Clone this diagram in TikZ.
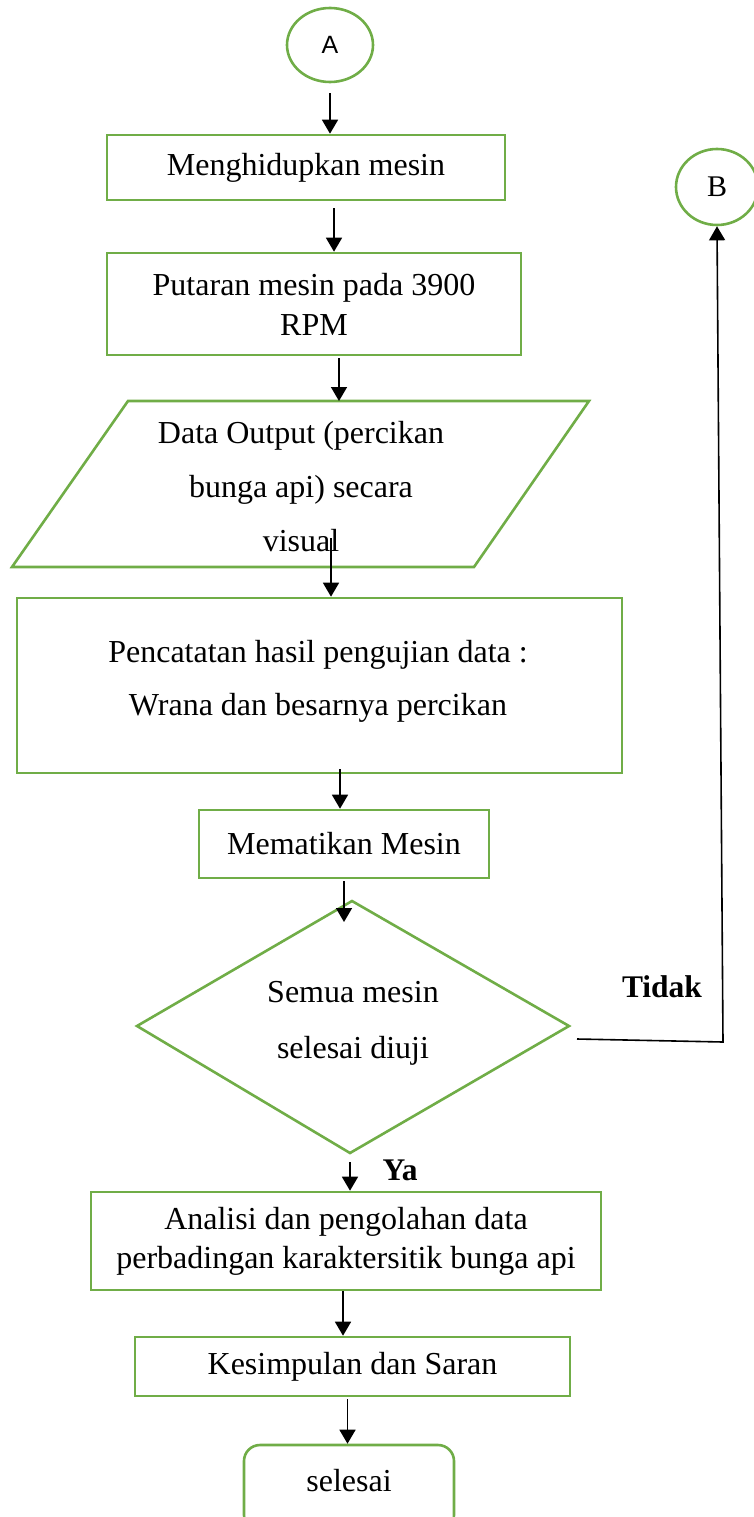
\documentclass[tikz,border=0pt]{standalone}
\usepackage{fontspec}
\setmainfont{Liberation Serif}
\newfontfamily\labelsans{Liberation Sans}
\usetikzlibrary{arrows.meta,shapes.geometric}
\definecolor{boxgreen}{HTML}{70AD47}

\begin{document}
\begin{tikzpicture}[x=1pt,y=-1pt,
  flowline/.style={draw=boxgreen,line width=2.6pt},
  box/.style={flowline,rectangle,inner sep=0pt,align=center,font=\fontsize{32}{40}\selectfont},
  plaintext/.style={inner sep=0pt,align=center},
  connector/.style={draw=black,line width=1.6pt},
  arr/.style={connector,-{Triangle[width=16pt,length=14pt]}},
  decision/.style={font=\bfseries\fontsize{31.5}{31.5}\selectfont,inner sep=0pt}
]
\useasboundingbox (0,0) rectangle (754,1517);

% connector circles
\node[ellipse,flowline,minimum width=86pt,minimum height=74pt,inner sep=0pt,
      font=\labelsans\fontsize{25}{25}\selectfont] (A) at (330,45) {A};
\node[ellipse,flowline,minimum width=82pt,minimum height=76pt,inner sep=0pt,
      font=\fontsize{30}{30}\selectfont] (B) at (717,187) {B};

% process steps
\node[box,minimum width=398pt,minimum height=65pt] (n1) at (306,167.5) {Menghidupkan mesin};
\node[box,minimum width=414pt,minimum height=102pt] (n2) at (314,304) {Putaran mesin pada 3900\\RPM};

% input/output parallelogram
\draw[flowline] (128,401) coordinate (p-tl) -- (589,401) coordinate (p-tr)
  -- (474,567) coordinate (p-br) -- (12,567) coordinate (p-bl) -- cycle;
\node[plaintext,font=\fontsize{32}{54}\selectfont] (ptext) at (301,487)
  {Data Output (percikan\\bunga api) secara\\visual};

\node[box,minimum width=605pt,minimum height=175pt,font=\fontsize{32}{53}\selectfont] (n3) at (319.5,685.5) {};
\node[plaintext,font=\fontsize{32}{53}\selectfont] (n3text) at (318,681)
  {Pencatatan hasil pengujian data :\\Wrana dan besarnya percikan};
\node[box,minimum width=290pt,minimum height=68pt] (n4) at (344,844) {Mematikan Mesin};

% decision
\draw[flowline] (352,901) coordinate (d-top) -- (569,1026) coordinate (d-right)
  -- (350,1153) coordinate (d-bot) -- (137,1026) coordinate (d-left) -- cycle;
\node[plaintext,font=\fontsize{32}{56}\selectfont] (dtext) at (353,1023) {Semua mesin\\selesai diuji};
\node[decision] (tidak) at (662,987) {Tidak};
\node[decision] (ya) at (400,1170) {Ya};

\node[box,minimum width=510pt,minimum height=98pt,font=\fontsize{32}{39}\selectfont] (n5) at (346,1241)
  {Analisi dan pengolahan data\\perbadingan karaktersitik bunga api};
\node[box,minimum width=435pt,minimum height=59pt] (n6) at (352.5,1366.5) {Kesimpulan dan Saran};

% terminator
\node[box,rounded corners=16pt,minimum width=210pt,text height=46pt,text depth=40pt,anchor=base] (end) at (349,1491) {selesai};

% flow arrows
\draw[arr,shorten <=10pt] (A.south) -- (A.south |- n1.north);
\draw[arr,shorten <=7pt] ([xshift=28pt]n1.south) -- ([xshift=28pt]n1.south |- n2.north);
\draw[arr,shorten <=2pt] ([xshift=25pt]n2.south) -- ([xshift=25pt]n2.south |- p-tl);
\draw[arr] ([xshift=30pt,yshift=-51pt]ptext.center) -- ([xshift=30pt]ptext.center |- n3.north);
\draw[arr,shorten <=-5pt] ([xshift=20.5pt]n3.south) -- ([xshift=20.5pt]n3.south |- n4.north);
\draw[arr,shorten <=2pt] (n4.south) -- ([yshift=-21pt]n4.south |- d-top);
\draw[arr,shorten <=9pt] (d-bot) -- (d-bot |- n5.north);
\draw[arr] ([xshift=-3pt]n5.south) -- ([xshift=-3pt]n5.south |- n6.north);
\draw[arr,shorten <=2pt] ([xshift=-5pt]n6.south) -- ([xshift=-5pt]n6.south |- end.north);

% "Tidak" branch back to B
\coordinate (t-corner) at (723,1042);
\draw[arr] ([shift={(8pt,-13pt)}]d-right) -- (t-corner) -- (B.south);
\end{tikzpicture}
\end{document}
